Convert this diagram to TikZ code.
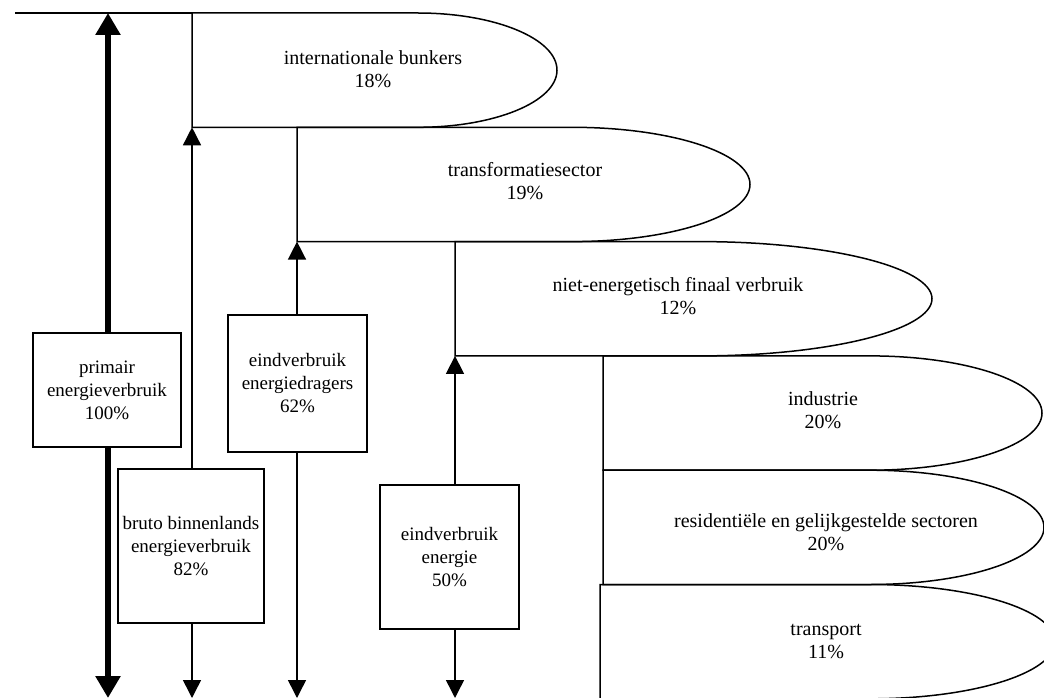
\documentclass[tikz,border=0pt]{standalone}
\usepackage{fontspec}
\setmainfont{Liberation Serif}
\usetikzlibrary{arrows.meta}

\tikzset{
	flowbox/.style={draw, fill=white, align=center, inner sep=0pt},
	bandtext/.style={align=center, inner sep=0pt, font=\fontsize{20}{23}\selectfont},
	thinarrow/.style={line width=1.5pt, -{Triangle[length=18pt,width=18pt]}},
	thickarrow/.style={line width=6pt, -{Triangle[length=22pt,width=24pt]}},
}

\begin{document}
\begin{tikzpicture}[x=1pt, y=-1pt, line width=1.5pt, font=\fontsize{19}{23}\selectfont]
					\useasboundingbox (0,0) rectangle (1044,698);
					\def\h{114.3};

					% bands: top, left side, arc centre, arc radius
					\foreach \ty/\lx/\cx/\rx [count=\i] in {13/192/418/139, 127.3/297/572/178, 241.6/455/700/232, 355.9/603/870/172, 470.2/603/870/174, 584.5/600/870/185}{
						\draw (\lx,\ty) -- (\cx,\ty) arc[start angle=90, end angle=-90, x radius=\rx pt, y radius=57.15pt] -- (\lx,{\ty+\h}) -- cycle;
						\coordinate (band\i) at (\lx,{\ty+\h});
					}
					\coordinate (topleft) at (15,13);
					\coordinate (topmain) at (108,13);
					\draw (topleft) -- (192,13);

					\node[bandtext] (bunkers) at (373,69) {internationale bunkers\\18\%};
					\node[bandtext] (transf) at (525,181) {transformatiesector\\19\%};
					\node[bandtext] (nietenerg) at (678,296) {niet-energetisch finaal verbruik\\12\%};
					\node[bandtext] (industrie) at (823,410) {industrie\\20\%};
					\node[bandtext] (resid) at (826,532) {residentiële en gelijkgestelde sectoren\\20\%};
					\node[bandtext] (transport) at (826,641) {transport\\11\%};

					\node[flowbox, minimum width=148pt, minimum height=114pt] (primair) at (107,390) {primair\\energieverbruik\\100\%};
					\node[flowbox, minimum width=146pt, minimum height=154pt] (bruto) at (191,546) {bruto binnenlands\\energieverbruik\\82\%};
					\node[flowbox, minimum width=139pt, minimum height=137pt] (dragers) at (297.5,383.5) {eindverbruik\\energiedragers\\62\%};
					\node[flowbox, minimum width=139pt, minimum height=144pt] (energie) at (449.5,557) {eindverbruik\\energie\\50\%};

					\coordinate (out1) at (108,698);
					\coordinate (out2) at (192,698);
					\coordinate (out3) at (297,698);
					\coordinate (out4) at (455,698);

					\begin{scope}[thickarrow]
						\draw (primair.north -| topmain) -- (topmain);
						\draw (primair.south -| out1) -- (out1);
					\end{scope}

					\begin{scope}[thinarrow]
						\draw (bruto.north -| band1) -- (band1);
						\draw (dragers.north -| band2) -- (band2);
						\draw (energie.north -| band3) -- (band3);
						\draw (bruto.south -| out2) -- (out2);
						\draw (dragers.south -| out3) -- (out3);
						\draw (energie.south -| out4) -- (out4);
					\end{scope}
				\end{tikzpicture}
\end{document}
